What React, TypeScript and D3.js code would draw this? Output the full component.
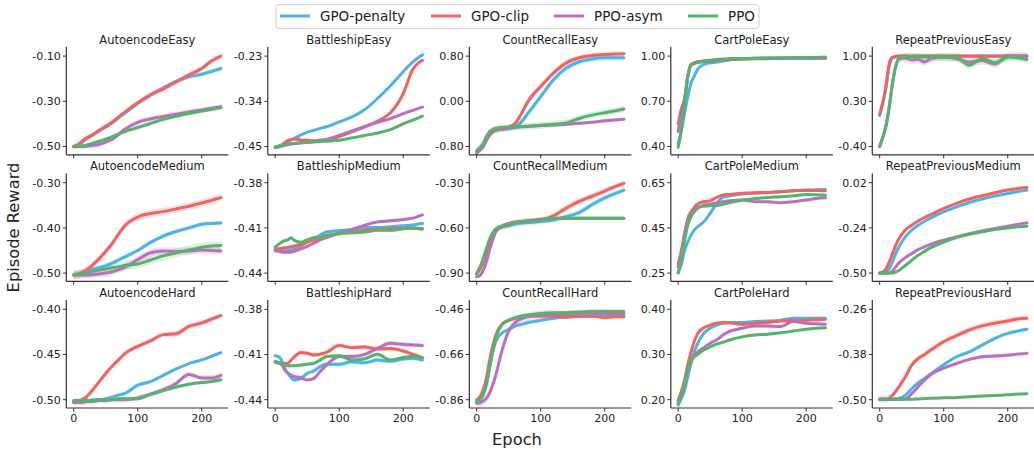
import React from 'react';
import * as d3 from 'd3';

const EPOCHS = [0, 5, 10, 15, 20, 25, 30, 40, 50, 60, 70, 80, 100, 120, 140, 160, 180, 200, 215, 230];
const METHODS = ['GPO-penalty', 'GPO-clip', 'PPO-asym', 'PPO'];
const COLORS = ['#4db3e6', '#ef6461', '#b970be', '#56b46a'];
const X_TICKS = [0, 100, 200];

// every panel: [GPO-penalty, GPO-clip, PPO-asym, PPO]
const autoencodeEasy = [
  [-0.50, -0.497, -0.49, -0.478, -0.466, -0.457, -0.448, -0.43, -0.412, -0.395, -0.373, -0.352, -0.31, -0.273, -0.24, -0.212, -0.192, -0.18, -0.168, -0.155],
  [-0.50, -0.495, -0.485, -0.472, -0.462, -0.455, -0.448, -0.428, -0.412, -0.393, -0.37, -0.348, -0.306, -0.271, -0.245, -0.214, -0.183, -0.155, -0.122, -0.10],
  [-0.50, -0.50, -0.50, -0.50, -0.499, -0.497, -0.495, -0.49, -0.48, -0.468, -0.447, -0.424, -0.393, -0.378, -0.367, -0.357, -0.347, -0.338, -0.331, -0.324],
  [-0.50, -0.50, -0.50, -0.497, -0.494, -0.49, -0.485, -0.476, -0.468, -0.457, -0.445, -0.434, -0.416, -0.398, -0.38, -0.366, -0.354, -0.343, -0.336, -0.328],
];
const battleshipEasy = [
  [-0.452, -0.449, -0.446, -0.442, -0.438, -0.434, -0.43, -0.422, -0.415, -0.411, -0.406, -0.402, -0.39, -0.378, -0.36, -0.333, -0.302, -0.268, -0.244, -0.227],
  [-0.452, -0.45, -0.447, -0.44, -0.435, -0.433, -0.432, -0.434, -0.435, -0.436, -0.435, -0.434, -0.426, -0.414, -0.402, -0.388, -0.368, -0.321, -0.262, -0.24],
  [-0.453, -0.451, -0.449, -0.447, -0.445, -0.444, -0.443, -0.441, -0.44, -0.438, -0.435, -0.433, -0.423, -0.412, -0.401, -0.391, -0.382, -0.37, -0.362, -0.354],
  [-0.452, -0.45, -0.448, -0.446, -0.444, -0.443, -0.442, -0.441, -0.44, -0.439, -0.438, -0.437, -0.435, -0.429, -0.423, -0.417, -0.409, -0.395, -0.386, -0.376],
];
const countRecallEasy = [
  [-0.88, -0.84, -0.78, -0.69, -0.60, -0.54, -0.51, -0.49, -0.48, -0.454, -0.364, -0.215, 0.084, 0.382, 0.59, 0.70, 0.75, 0.77, 0.77, 0.77],
  [-0.88, -0.84, -0.78, -0.69, -0.60, -0.54, -0.51, -0.49, -0.466, -0.394, -0.215, -0.006, 0.263, 0.50, 0.68, 0.77, 0.81, 0.83, 0.835, 0.84],
  [-0.92, -0.87, -0.81, -0.68, -0.57, -0.52, -0.495, -0.47, -0.465, -0.46, -0.452, -0.445, -0.43, -0.418, -0.406, -0.388, -0.37, -0.346, -0.33, -0.316],
  [-0.88, -0.82, -0.75, -0.63, -0.54, -0.50, -0.48, -0.466, -0.46, -0.454, -0.447, -0.44, -0.424, -0.405, -0.382, -0.304, -0.245, -0.203, -0.17, -0.137],
];
const cartPoleEasy = [
  [0.418, 0.507, 0.62, 0.73, 0.82, 0.866, 0.91, 0.944, 0.955, 0.96, 0.968, 0.975, 0.982, 0.985, 0.986, 0.987, 0.988, 0.988, 0.989, 0.989],
  [0.55, 0.65, 0.72, 0.866, 0.945, 0.955, 0.962, 0.967, 0.971, 0.974, 0.977, 0.979, 0.982, 0.984, 0.985, 0.986, 0.987, 0.988, 0.988, 0.989],
  [0.50, 0.62, 0.71, 0.86, 0.94, 0.95, 0.958, 0.963, 0.966, 0.97, 0.973, 0.976, 0.98, 0.982, 0.983, 0.984, 0.985, 0.985, 0.986, 0.986],
  [0.395, 0.507, 0.687, 0.866, 0.94, 0.953, 0.958, 0.966, 0.972, 0.978, 0.98, 0.982, 0.984, 0.986, 0.987, 0.988, 0.989, 0.99, 0.991, 0.993],
];
const repeatPreviousEasy = [
  [0.08, 0.27, 0.52, 0.86, 0.97, 0.99, 0.995, 1.0, 0.998, 1.0, 0.997, 1.0, 0.995, 1.0, 0.998, 1.0, 0.997, 1.0, 1.0, 1.0],
  [0.105, 0.29, 0.55, 0.885, 0.98, 0.995, 1.0, 1.0, 1.0, 1.0, 1.0, 1.0, 1.0, 1.0, 1.0, 1.0, 1.0, 1.0, 1.0, 1.0],
  [-0.40, -0.25, -0.07, 0.22, 0.58, 0.84, 0.96, 0.97, 0.94, 0.95, 0.91, 0.96, 0.99, 0.96, 0.91, 0.93, 0.88, 0.995, 1.0, 1.0],
  [-0.40, -0.26, -0.077, 0.21, 0.573, 0.833, 0.964, 0.99, 0.985, 0.99, 0.985, 0.985, 0.98, 0.98, 0.86, 0.964, 0.896, 0.985, 0.975, 0.948],
];
const autoencodeMedium = [
  [-0.504, -0.503, -0.501, -0.498, -0.496, -0.494, -0.492, -0.488, -0.484, -0.478, -0.471, -0.464, -0.45, -0.432, -0.418, -0.408, -0.40, -0.392, -0.39, -0.389],
  [-0.504, -0.503, -0.50, -0.497, -0.493, -0.488, -0.482, -0.468, -0.452, -0.435, -0.414, -0.395, -0.376, -0.368, -0.364, -0.358, -0.352, -0.345, -0.339, -0.333],
  [-0.504, -0.504, -0.504, -0.504, -0.504, -0.504, -0.503, -0.502, -0.50, -0.497, -0.493, -0.487, -0.47, -0.455, -0.451, -0.452, -0.451, -0.449, -0.45, -0.451],
  [-0.504, -0.503, -0.502, -0.50, -0.499, -0.498, -0.496, -0.493, -0.491, -0.488, -0.486, -0.483, -0.48, -0.471, -0.462, -0.455, -0.449, -0.443, -0.44, -0.439],
];
const battleshipMedium = [
  [-0.424, -0.4245, -0.425, -0.4252, -0.4251, -0.4245, -0.424, -0.422, -0.419, -0.4172, -0.415, -0.4127, -0.4118, -0.411, -0.4098, -0.4098, -0.4092, -0.4085, -0.408, -0.4071],
  [-0.424, -0.4238, -0.4235, -0.4232, -0.423, -0.4225, -0.422, -0.421, -0.4195, -0.418, -0.417, -0.4156, -0.4138, -0.4127, -0.4116, -0.411, -0.4105, -0.41, -0.4102, -0.4105],
  [-0.4251, -0.4255, -0.426, -0.4262, -0.4262, -0.426, -0.4255, -0.424, -0.4222, -0.4202, -0.418, -0.4165, -0.4134, -0.4111, -0.4082, -0.406, -0.4053, -0.4044, -0.4035, -0.4014],
  [-0.4229, -0.421, -0.4195, -0.4185, -0.4179, -0.4165, -0.4183, -0.4195, -0.418, -0.4165, -0.416, -0.415, -0.4138, -0.4133, -0.4127, -0.4116, -0.4116, -0.4105, -0.41, -0.4109],
];
const countRecallMedium = [
  [-0.907, -0.873, -0.83, -0.765, -0.70, -0.645, -0.612, -0.592, -0.584, -0.574, -0.568, -0.565, -0.558, -0.547, -0.525, -0.498, -0.446, -0.401, -0.374, -0.349],
  [-0.907, -0.873, -0.828, -0.761, -0.693, -0.637, -0.608, -0.592, -0.581, -0.565, -0.558, -0.554, -0.547, -0.52, -0.469, -0.424, -0.39, -0.356, -0.327, -0.304],
  [-0.925, -0.918, -0.884, -0.828, -0.749, -0.678, -0.626, -0.588, -0.57, -0.561, -0.556, -0.552, -0.543, -0.538, -0.536, -0.536, -0.536, -0.536, -0.536, -0.536],
  [-0.902, -0.862, -0.806, -0.74, -0.678, -0.633, -0.608, -0.588, -0.578, -0.565, -0.558, -0.554, -0.547, -0.536, -0.536, -0.536, -0.536, -0.536, -0.536, -0.536],
];
const cartPoleMedium = [
  [0.25, 0.291, 0.35, 0.388, 0.417, 0.44, 0.454, 0.477, 0.514, 0.558, 0.585, 0.591, 0.60, 0.603, 0.607, 0.61, 0.614, 0.617, 0.619, 0.62],
  [0.291, 0.35, 0.425, 0.491, 0.521, 0.54, 0.555, 0.566, 0.57, 0.585, 0.595, 0.598, 0.603, 0.606, 0.607, 0.61, 0.614, 0.617, 0.615, 0.614],
  [0.277, 0.336, 0.417, 0.477, 0.506, 0.524, 0.536, 0.551, 0.555, 0.561, 0.566, 0.57, 0.573, 0.566, 0.566, 0.561, 0.566, 0.573, 0.58, 0.583],
  [0.254, 0.306, 0.395, 0.462, 0.499, 0.521, 0.54, 0.546, 0.548, 0.548, 0.555, 0.561, 0.573, 0.58, 0.585, 0.588, 0.592, 0.598, 0.597, 0.595],
];
const repeatPreviousMedium = [
  [-0.50, -0.498, -0.494, -0.475, -0.436, -0.388, -0.35, -0.292, -0.253, -0.225, -0.202, -0.182, -0.148, -0.119, -0.094, -0.074, -0.057, -0.042, -0.032, -0.022],
  [-0.50, -0.494, -0.475, -0.436, -0.388, -0.34, -0.302, -0.253, -0.225, -0.20, -0.18, -0.163, -0.128, -0.099, -0.074, -0.055, -0.038, -0.022, -0.013, -0.007],
  [-0.50, -0.50, -0.50, -0.50, -0.488, -0.465, -0.442, -0.411, -0.388, -0.365, -0.349, -0.334, -0.311, -0.292, -0.273, -0.257, -0.244, -0.23, -0.22, -0.211],
  [-0.50, -0.50, -0.50, -0.50, -0.50, -0.494, -0.485, -0.456, -0.427, -0.398, -0.375, -0.354, -0.321, -0.296, -0.277, -0.263, -0.25, -0.24, -0.234, -0.23],
];
const autoencodeHard = [
  [-0.502, -0.502, -0.502, -0.502, -0.501, -0.501, -0.50, -0.50, -0.499, -0.497, -0.495, -0.493, -0.484, -0.48, -0.473, -0.466, -0.46, -0.456, -0.452, -0.448],
  [-0.502, -0.502, -0.501, -0.499, -0.497, -0.493, -0.489, -0.48, -0.471, -0.463, -0.456, -0.449, -0.441, -0.435, -0.428, -0.427, -0.419, -0.415, -0.411, -0.407],
  [-0.503, -0.503, -0.503, -0.503, -0.502, -0.502, -0.502, -0.501, -0.501, -0.50, -0.50, -0.50, -0.498, -0.494, -0.489, -0.482, -0.472, -0.476, -0.476, -0.473],
  [-0.501, -0.501, -0.501, -0.501, -0.501, -0.501, -0.501, -0.50, -0.50, -0.50, -0.499, -0.499, -0.499, -0.494, -0.49, -0.486, -0.483, -0.481, -0.48, -0.478],
];
const battleshipHard = [
  [-0.4108, -0.4114, -0.4137, -0.4192, -0.4225, -0.4254, -0.4269, -0.4258, -0.4225, -0.421, -0.4181, -0.4165, -0.4165, -0.4148, -0.4155, -0.4137, -0.4145, -0.413, -0.4125, -0.4137],
  [-0.4148, -0.4155, -0.4159, -0.416, -0.4159, -0.4137, -0.4115, -0.4086, -0.4092, -0.4103, -0.4098, -0.4086, -0.4041, -0.4055, -0.405, -0.4063, -0.406, -0.4077, -0.4099, -0.4121],
  [-0.4148, -0.4155, -0.4165, -0.4203, -0.4225, -0.4238, -0.4247, -0.4254, -0.4269, -0.426, -0.4214, -0.417, -0.4114, -0.4114, -0.4099, -0.4059, -0.4026, -0.4033, -0.4037, -0.4041],
  [-0.4148, -0.4155, -0.416, -0.417, -0.4174, -0.4174, -0.4174, -0.417, -0.4165, -0.4159, -0.4137, -0.4114, -0.4108, -0.4137, -0.4128, -0.4099, -0.4137, -0.412, -0.4114, -0.4121],
];
const countRecallHard = [
  [-0.872, -0.861, -0.839, -0.795, -0.72, -0.65, -0.601, -0.564, -0.549, -0.534, -0.527, -0.519, -0.509, -0.50, -0.494, -0.491, -0.49, -0.487, -0.486, -0.485],
  [-0.861, -0.847, -0.817, -0.765, -0.69, -0.624, -0.572, -0.524, -0.509, -0.50, -0.494, -0.491, -0.49, -0.49, -0.494, -0.49, -0.49, -0.497, -0.493, -0.493],
  [-0.876, -0.873, -0.866, -0.854, -0.832, -0.795, -0.75, -0.638, -0.557, -0.519, -0.502, -0.493, -0.485, -0.482, -0.482, -0.482, -0.479, -0.479, -0.479, -0.479],
  [-0.872, -0.861, -0.839, -0.795, -0.72, -0.649, -0.586, -0.527, -0.509, -0.497, -0.49, -0.485, -0.479, -0.475, -0.475, -0.472, -0.47, -0.47, -0.47, -0.47],
];
const cartPoleHard = [
  [0.188, 0.203, 0.221, 0.251, 0.28, 0.305, 0.323, 0.347, 0.358, 0.365, 0.369, 0.371, 0.371, 0.373, 0.374, 0.376, 0.38, 0.38, 0.38, 0.38],
  [0.199, 0.218, 0.244, 0.277, 0.305, 0.328, 0.345, 0.359, 0.365, 0.369, 0.371, 0.37, 0.367, 0.369, 0.371, 0.374, 0.374, 0.376, 0.377, 0.378],
  [0.196, 0.21, 0.232, 0.262, 0.284, 0.297, 0.305, 0.315, 0.325, 0.332, 0.343, 0.351, 0.358, 0.363, 0.363, 0.362, 0.373, 0.369, 0.368, 0.367],
  [0.192, 0.21, 0.24, 0.269, 0.288, 0.295, 0.30, 0.31, 0.317, 0.323, 0.327, 0.332, 0.339, 0.343, 0.345, 0.348, 0.352, 0.356, 0.358, 0.359],
];
const repeatPreviousHard = [
  [-0.499, -0.499, -0.499, -0.499, -0.499, -0.498, -0.497, -0.488, -0.471, -0.455, -0.444, -0.431, -0.407, -0.386, -0.373, -0.355, -0.337, -0.324, -0.318, -0.313],
  [-0.499, -0.499, -0.499, -0.496, -0.488, -0.478, -0.466, -0.44, -0.408, -0.391, -0.38, -0.368, -0.346, -0.33, -0.315, -0.304, -0.297, -0.291, -0.286, -0.284],
  [-0.499, -0.499, -0.499, -0.499, -0.499, -0.499, -0.499, -0.498, -0.484, -0.466, -0.448, -0.433, -0.416, -0.404, -0.393, -0.386, -0.384, -0.382, -0.379, -0.377],
  [-0.499, -0.499, -0.499, -0.499, -0.499, -0.499, -0.499, -0.499, -0.499, -0.498, -0.497, -0.496, -0.495, -0.494, -0.492, -0.49, -0.489, -0.487, -0.485, -0.484],
];

// y tick labels (low, mid, high)
const yTicks = [
  [-0.5, -0.3, -0.1], [-0.45, -0.34, -0.23], [-0.8, 0, 0.8], [0.4, 0.7, 1.0], [-0.4, 0.3, 1.0],
  [-0.5, -0.4, -0.3], [-0.44, -0.41, -0.38], [-0.9, -0.6, -0.3], [0.25, 0.45, 0.65], [-0.5, -0.24, 0.02],
  [-0.5, -0.45, -0.4], [-0.44, -0.41, -0.38], [-0.86, -0.66, -0.46], [0.2, 0.3, 0.4], [-0.5, -0.38, -0.26],
];

// shaded band half-width per method
const bands = [
  [0.010, 0.012, 0.012, 0.008], [0.003, 0.004, 0.004, 0.003], [0.06, 0.05, 0.03, 0.06], [0.01, 0.01, 0.01, 0.01], [0.02, 0.02, 0.06, 0.06],
  [0.005, 0.008, 0.008, 0.01], [0.001, 0.001, 0.0012, 0.0012], [0.02, 0.02, 0.005, 0.005], [0.006, 0.006, 0.006, 0.006], [0.008, 0.008, 0.008, 0.008],
  [0.002, 0.003, 0.003, 0.002], [0.0015, 0.0015, 0.0015, 0.0012], [0.008, 0.008, 0.02, 0.008], [0.003, 0.004, 0.003, 0.003], [0.005, 0.008, 0.005, 0.003],
];

const TITLES = [
  'AutoencodeEasy', 'BattleshipEasy', 'CountRecallEasy', 'CartPoleEasy', 'RepeatPreviousEasy',
  'AutoencodeMedium', 'BattleshipMedium', 'CountRecallMedium', 'CartPoleMedium', 'RepeatPreviousMedium',
  'AutoencodeHard', 'BattleshipHard', 'CountRecallHard', 'CartPoleHard', 'RepeatPreviousHard',
];
const PANEL_DATA = [
  autoencodeEasy, battleshipEasy, countRecallEasy, cartPoleEasy, repeatPreviousEasy,
  autoencodeMedium, battleshipMedium, countRecallMedium, cartPoleMedium, repeatPreviousMedium,
  autoencodeHard, battleshipHard, countRecallHard, cartPoleHard, repeatPreviousHard,
];

const W = 1034, H = 449;
const LEFT0 = 66.3, COL_STEP = 201.5, PW = 162;
const TOP0 = 46.8, ROW_STEP = 126.6, PH = 108;
const FONT = 'DejaVu Sans';
const AXIS = '#333';

const fmt = d3.formatLocale({ decimal: '.', thousands: ',', grouping: [3], currency: ['', ''], minus: '-' }).format('.2f');

function Panel({ idx }: { idx: number }) {
  const col = idx % 5, row = Math.floor(idx / 5);
  const left = LEFT0 + col * COL_STEP;
  const top = TOP0 + row * ROW_STEP;
  const bottom = top + PH;
  const ticks = yTicks[idx];
  const data = PANEL_DATA[idx];

  const x = d3.scaleLinear().domain([-11.5, 241.5]).range([left, left + PW]);
  const y = d3.scaleLinear().domain([ticks[0], ticks[2]]).range([bottom - 8.3, top + 9.3]);

  const line = d3.line<number>()
    .x((_, i) => x(EPOCHS[i]))
    .y(v => y(v))
    .curve(d3.curveMonotoneX);

  return (
    <g>
      {data.map((vals, k) => {
        const s = bands[idx][k];
        const area = d3.area<number>()
          .x((_, i) => x(EPOCHS[i]))
          .y0(v => y(v - s))
          .y1(v => y(v + s))
          .curve(d3.curveMonotoneX);
        return <path key={'b' + k} d={area(vals) || ''} fill={COLORS[k]} opacity={0.2} />;
      })}
      {data.map((vals, k) => (
        <path key={'l' + k} d={line(vals) || ''} fill="none" stroke={COLORS[k]}
          strokeWidth={3} strokeLinejoin="round" strokeLinecap="round" />
      ))}
      <line x1={left} x2={left} y1={top} y2={bottom} stroke={AXIS} strokeWidth={1.2} />
      <line x1={left} x2={left + PW} y1={bottom} y2={bottom} stroke={AXIS} strokeWidth={1.2} />
      {ticks.map(t => (
        <g key={'y' + t}>
          <line x1={left - 3.5} x2={left} y1={y(t)} y2={y(t)} stroke={AXIS} strokeWidth={1} />
          <text x={left - 5.5} y={y(t)} dy="0.36em" textAnchor="end" fontSize={11} fill="#222">{fmt(t)}</text>
        </g>
      ))}
      {X_TICKS.map(t => (
        <g key={'x' + t}>
          <line x1={x(t)} x2={x(t)} y1={bottom} y2={bottom + 3.5} stroke={AXIS} strokeWidth={1} />
          {row === 2 && (
            <text x={x(t)} y={bottom + 6} dy="0.76em" textAnchor="middle" fontSize={11} fill="#222">{t}</text>
          )}
        </g>
      ))}
      <text x={left + PW / 2} y={top - 3} textAnchor="middle" fontSize={11.5} fill="#222">{TITLES[idx]}</text>
    </g>
  );
}

function Legend() {
  const itemX = [280, 431, 554, 688];
  return (
    <g>
      <rect x={276} y={4.5} width={483} height={24} rx={3} fill="white" stroke="#d0d0d0" strokeWidth={1} />
      {METHODS.map((m, k) => (
        <g key={m}>
          <line x1={itemX[k]} x2={itemX[k] + 30} y1={16} y2={16} stroke={COLORS[k]} strokeWidth={3} />
          <text x={itemX[k] + 40} y={16} dy="0.36em" fontSize={13.5} fill="#222">{m}</text>
        </g>
      ))}
    </g>
  );
}

export default function App() {
  return (
    <svg width={W} height={H} fontFamily={FONT}
      style={{ position: 'absolute', left: 0, top: 0, background: 'white' }}>
      {TITLES.map((_, i) => <Panel key={i} idx={i} />)}
      <Legend />
      <text x={517} y={445} textAnchor="middle" fontSize={16.3} fill="#222">Epoch</text>
      <text transform="translate(18.5,227.5) rotate(-90)" textAnchor="middle" fontSize={16.3} fill="#222">Episode Reward</text>
    </svg>
  );
}
